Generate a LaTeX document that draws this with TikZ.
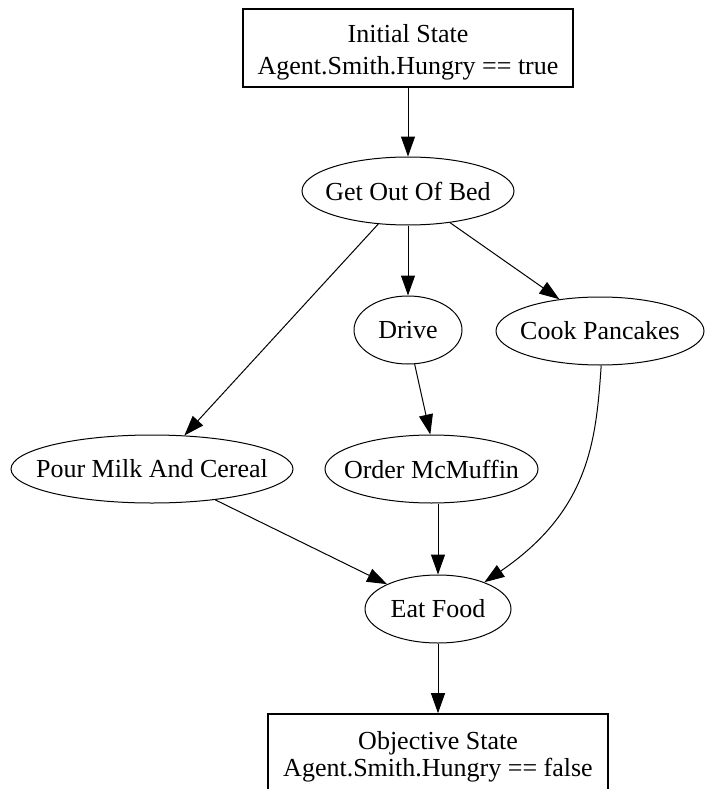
\documentclass[tikz,border=0pt]{standalone}
\usepackage{fontspec}
\setmainfont{Liberation Serif}
\usetikzlibrary{shapes.geometric,arrows.meta}
% zero-width label so the ellipse size is set only by minimum width/height
\newcommand{\actlabel}[1]{\makebox[0pt]{#1}}
\begin{document}
\begin{tikzpicture}[x=1pt,y=-1pt,
  state/.style={draw,line width=1.6pt,rectangle,minimum height=78pt,inner sep=0pt},
  statetext/.style={anchor=base,inner sep=0pt,font=\fontsize{26}{30}\selectfont},
  action/.style={draw,line width=1pt,ellipse,minimum height=68pt,inner sep=0pt,
    font=\fontsize{26}{30}\selectfont},
  link/.style={line width=1pt,-{Triangle[length=20pt,width=14pt]}},
]
\useasboundingbox (0,0) rectangle (705,789);
\clip (0,0) rectangle (705,789);
\fill[white] (0,0) rectangle (705,789);

% start and goal states
\node[state,minimum width=330pt] (init) at (408,48) {};
\node[statetext] (initA) at (408,43) {Initial State};
\node[statetext] (initB) at (408,75) {Agent.Smith.Hungry == true};
\node[state,minimum width=340pt] (goal) at (438,753) {};
\node[statetext] (goalA) at (438,749) {Objective State};
\node[statetext] (goalB) at (438,776) {Agent.Smith.Hungry == false};

% actions
\node[action,minimum width=212pt] (bed)     at (408,191)   {\actlabel{Get Out Of Bed}};
\node[action,minimum width=108pt] (drive)   at (408,330)   {\actlabel{Drive}};
\node[action,minimum width=208pt] (cook)    at (600,331)   {\actlabel{Cook Pancakes}};
\node[action,minimum width=282pt] (cereal)  at (152,469)   {\actlabel{Pour Milk And Cereal}};
\node[action,minimum width=213pt] (muffin)  at (431.5,469) {\actlabel{Order McMuffin}};
\node[action,minimum width=146pt] (eat)     at (438,609)   {\actlabel{Eat Food}};

% plan edges
\draw[link] (init) -- (bed);
\draw[link] (bed) -- (drive);
\draw[link] (bed.228) -- (cereal.46);
\draw[link] (bed.-37) -- (cook.142);
\draw[link] (drive.-79) -- (muffin.92);
\draw[link] (eat.north |- muffin.south) -- (eat.north);
\draw[link] (cereal.-26) -- (eat.154);
\draw[link] (cook.-88) .. controls (596,440) and (590,510) .. (eat.30);
\draw[link] (eat) -- (goal);
\end{tikzpicture}
\end{document}
